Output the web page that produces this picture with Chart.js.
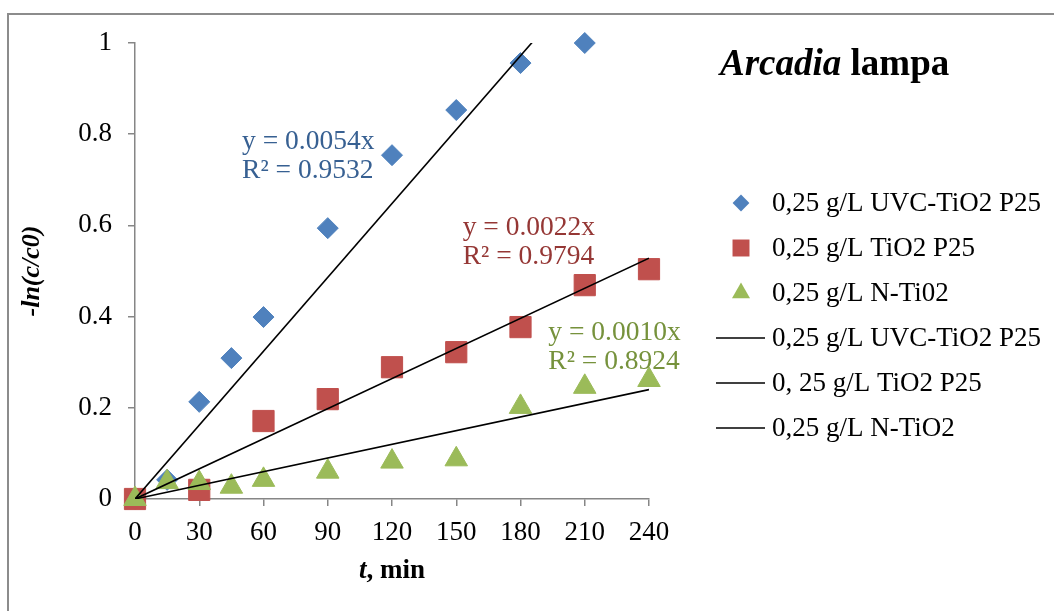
<!DOCTYPE html>
<html>
<head>
<meta charset="utf-8">
<title>Arcadia lampa</title>
<script src="https://cdn.jsdelivr.net/npm/chart.js@4/dist/chart.umd.min.js"></script>
<style>
    html, body { margin: 0; padding: 0; background: #fff; }
    #wrap { position: relative; width: 1054px; height: 611px; overflow: hidden; }
    #frame { position: absolute; left: 7px; top: 13px; width: 1100px; height: 700px; border: 2px solid #8c8c8c; }
    #chart { position: absolute; left: 0; top: 0; }
</style>
</head>
<body>
<div id="wrap">
    <div id="frame"></div>
    <canvas id="chart" width="1054" height="611"></canvas>
</div>
<script>
// measured points, t in min vs -ln(c/c0)
const timeUVC = [0, 15, 30, 45, 60, 90, 120, 150, 180, 210];
const uvcValues = [0, 0.042, 0.213, 0.309, 0.399, 0.594, 0.754, 0.853, 0.956, 1.0];

const timeP25 = [0, 30, 60, 90, 120, 150, 180, 210, 240];
const p25Values = [0, 0.020, 0.171, 0.219, 0.289, 0.322, 0.377, 0.469, 0.504];

const timeNTi = [0, 15, 30, 45, 60, 90, 120, 150, 180, 210, 240];
const ntiValues = [0, 0.037, 0.035, 0.027, 0.042, 0.060, 0.082, 0.087, 0.202, 0.246, 0.261];

// linear fits through origin (Excel trendlines)
const fitSlopes = [0.0054, 0.0022, 0.0010];
const fitR2 = [0.9532, 0.9794, 0.8924];
const fitRange = [0, 240];

const seriesLabels = ['0,25 g/L UVC-TiO2 P25', '0,25 g/L TiO2 P25', '0,25 g/L N-Ti02'];
const fitLabels = ['0,25 g/L UVC-TiO2 P25', '0, 25 g/L TiO2 P25', '0,25 g/L N-TiO2'];

const xTicks = [0, 30, 60, 90, 120, 150, 180, 210, 240];
const yTicks = [0, 0.2, 0.4, 0.6, 0.8, 1];

const FONT = "'Liberation Serif', 'Times New Roman', serif";
const colors = ['#4f81bd', '#c0504d', '#9bbb59'];
const textColors = ['#376092', '#953735', '#76923c'];
const styles = ['rectRot', 'rect', 'triangle'];
const radii = [10.5, 15, 13];

function toPoints(xs, ys) {
    return xs.map((t, i) => ({ x: t, y: ys[i] }));
}

const scatterSets = [
    toPoints(timeUVC, uvcValues),
    toPoints(timeP25, p25Values),
    toPoints(timeNTi, ntiValues)
].map((data, i) => ({
    label: seriesLabels[i],
    data: data,
    showLine: false,
    clip: false,
    pointStyle: styles[i],
    pointRadius: radii[i],
    pointHoverRadius: radii[i],
    backgroundColor: colors[i],
    borderColor: colors[i],
    borderWidth: 1,
    order: 3 - i
}));

const fitSets = fitSlopes.map((k, i) => ({
    label: fitLabels[i],
    data: fitRange.map(t => ({ x: t, y: k * t })),
    showLine: true,
    pointRadius: 0,
    borderColor: '#000',
    borderWidth: 1.6,
    order: 0
}));

// where the trendline equations sit (data units, left / baseline of first line)
const eqAnchors = [{ x: 50, y: 0.768 }, { x: 153, y: 0.579 }, { x: 193, y: 0.349 }];

function drawMarker(ctx, style, r, cx, cy) {
    ctx.beginPath();
    if (style === 'rectRot') {
        ctx.moveTo(cx - r, cy); ctx.lineTo(cx, cy - r); ctx.lineTo(cx + r, cy); ctx.lineTo(cx, cy + r);
    } else if (style === 'rect') {
        const s = r * Math.SQRT1_2;
        ctx.rect(cx - s, cy - s, 2 * s, 2 * s);
    } else {
        ctx.moveTo(cx, cy - r);
        ctx.lineTo(cx + r * 0.866, cy + r / 2);
        ctx.lineTo(cx - r * 0.866, cy + r / 2);
    }
    ctx.closePath();
    ctx.fill();
}

const extras = {
    id: 'extras',
    afterDraw(chart) {
        const ctx = chart.ctx;
        const xs = chart.scales.x;
        const ys = chart.scales.y;
        const area = chart.chartArea;
        ctx.save();

        // trendline equations
        ctx.font = '27.5px ' + FONT;
        ctx.textAlign = 'left';
        ctx.textBaseline = 'alphabetic';
        eqAnchors.forEach((a, i) => {
            const px = xs.getPixelForValue(a.x);
            const py = ys.getPixelForValue(a.y);
            ctx.fillStyle = textColors[i];
            ctx.fillText('y = ' + fitSlopes[i].toFixed(4) + 'x', px, py);
            ctx.fillText('R\u00b2 = ' + fitR2[i].toFixed(4), px, py + 29);
        });

        // x axis title: italic t, bold rest
        ctx.fillStyle = '#000';
        const part1 = 't', part2 = ', min';
        ctx.font = 'italic bold 27px ' + FONT;
        const w1 = ctx.measureText(part1).width;
        ctx.font = 'bold 27px ' + FONT;
        const w2 = ctx.measureText(part2).width;
        const tx = (area.left + area.right) / 2 - (w1 + w2) / 2;
        ctx.font = 'italic bold 27px ' + FONT;
        ctx.fillText(part1, tx, 578);
        ctx.font = 'bold 27px ' + FONT;
        ctx.fillText(part2, tx + w1, 578);

        // chart title
        ctx.font = 'italic bold 37px ' + FONT;
        ctx.fillText('Arcadia', 720, 75);
        const wt = ctx.measureText('Arcadia ').width;
        ctx.font = 'bold 37px ' + FONT;
        ctx.fillText('lampa', 720 + wt, 75);

        // legend
        ctx.font = '27px ' + FONT;
        ctx.textBaseline = 'middle';
        chart.data.datasets.forEach((ds, i) => {
            const rowY = 203 + i * 45;
            if (ds.showLine) {
                ctx.strokeStyle = ds.borderColor;
                ctx.lineWidth = 1.6;
                ctx.beginPath();
                ctx.moveTo(716, rowY);
                ctx.lineTo(765, rowY);
                ctx.stroke();
            } else {
                ctx.fillStyle = ds.backgroundColor;
                drawMarker(ctx, ds.pointStyle, ds.pointRadius * 0.8, 741, rowY);
            }
            ctx.fillStyle = '#000';
            ctx.fillText(ds.label, 772, rowY + 1);
        });
        ctx.restore();
    }
};

new Chart(document.getElementById('chart'), {
    type: 'scatter',
    data: { datasets: scatterSets.concat(fitSets) },
    options: {
        responsive: false,
        animation: false,
        layout: { padding: { left: 0, top: 43, right: 405, bottom: 0 } },
        plugins: {
            legend: { display: false },
            tooltip: { enabled: false }
        },
        scales: {
            x: {
                type: 'linear',
                min: xTicks[0],
                max: xTicks[xTicks.length - 1],
                afterBuildTicks: axis => { axis.ticks = xTicks.map(v => ({ value: v })); },
                afterFit: axis => { axis.height = 112; },
                ticks: { color: '#000', padding: 11, font: { family: FONT, size: 27 } },
                grid: { drawOnChartArea: false, tickLength: 7, color: '#868686', lineWidth: 1.5 },
                border: { color: '#868686', width: 1.5 }
            },
            y: {
                min: yTicks[0],
                max: yTicks[yTicks.length - 1],
                afterBuildTicks: axis => { axis.ticks = yTicks.map(v => ({ value: v })); },
                afterFit: axis => { axis.width = 135; },
                ticks: {
                    color: '#000',
                    padding: 16,
                    font: { family: FONT, size: 27 },
                    callback: v => String(+v.toFixed(1))
                },
                grid: { drawOnChartArea: false, tickLength: 7, color: '#868686', lineWidth: 1.5 },
                border: { color: '#868686', width: 1.5 },
                title: {
                    display: true,
                    text: '-ln(c/c0)',
                    color: '#000',
                    padding: { top: 17, bottom: 0 },
                    font: { family: FONT, size: 26, style: 'italic', weight: 'bold' }
                }
            }
        }
    },
    plugins: [extras]
});
</script>
</body>
</html>
